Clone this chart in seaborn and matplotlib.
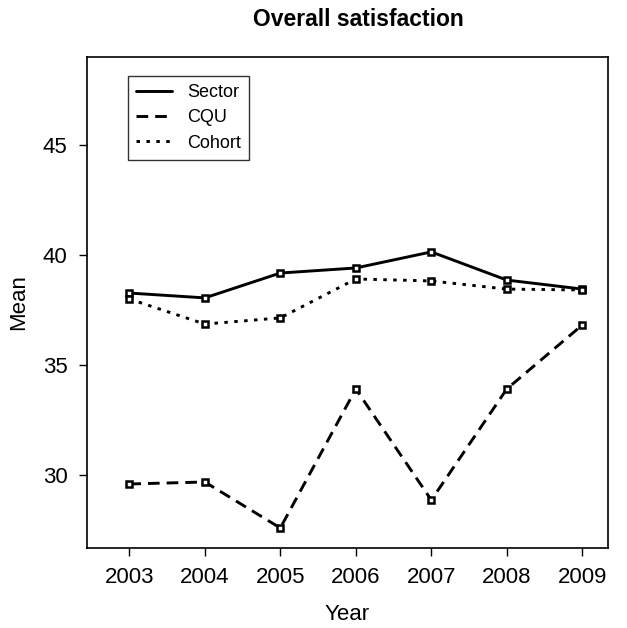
import matplotlib
matplotlib.use("Agg")
import matplotlib.pyplot as plt
from matplotlib.lines import Line2D
import pandas as pd
import seaborn as sns

# data
years = [2003, 2004, 2005, 2006, 2007, 2008, 2009]
sector = [38.27, 38.05, 39.18, 39.41, 40.14, 38.86, 38.45]
cqu = [29.59, 29.68, 27.59, 33.91, 28.86, 33.91, 36.82]
cohort = [38.0, 36.86, 37.14, 38.91, 38.82, 38.45, 38.41]
series = ["Sector", "CQU", "Cohort"]

df = pd.concat([
    pd.DataFrame(dict(Year=years, Mean=vals, series=name))
    for name, vals in zip(series, [sector, cqu, cohort])
])

sns.set_style("ticks")
plt.rcParams["font.family"] = ["Liberation Sans", "DejaVu Sans"]
plt.rcParams["text.color"] = "black"
plt.rcParams["axes.labelcolor"] = "black"

LW = 2.1
dashes = {"Sector": "", "CQU": (4, 2.4), "Cohort": (1.2, 2.2)}

fig = plt.figure(figsize=(6.27, 6.28), dpi=100)
fig.patch.set_facecolor("white")
ax = fig.add_axes([0.1388, 0.1274, 0.8309, 0.7818])

sns.lineplot(
    data=df, x="Year", y="Mean", style="series", style_order=series,
    dashes=dashes, markers={s: "s" for s in series},
    color="black", lw=LW, markersize=5,
    markerfacecolor="white", markeredgecolor="black", markeredgewidth=1.8,
    legend=False, ax=ax,
)

ax.set_xlim(2002.44, 2009.34)
ax.set_ylim(26.68, 49.0)
ax.set_xticks(years)
ax.set_yticks([30, 35, 40, 45])
ax.tick_params(direction="out", length=6, width=1, labelsize=16, color="black",
               labelcolor="black", pad=8)
for sp in ax.spines.values():
    sp.set_visible(True)
    sp.set_color("black")
    sp.set_linewidth(1.2)
ax.set_xlabel("Year", fontsize=16, labelpad=11)
ax.set_ylabel("Mean", fontsize=16, labelpad=10)

# legend
handles = [Line2D([], [], color="black", lw=LW, linestyle=ls)
           for ls in ["-", (0, (4, 2.4)), (0, (1.2, 2.2))]]
leg = ax.legend(handles, series, loc="upper left",
                bbox_to_anchor=(0.079, 0.961), borderaxespad=0,
                fontsize=13, frameon=True, fancybox=False,
                handlelength=2.0, handletextpad=0.8, labelspacing=0.45,
                borderpad=0.45)
leg.get_frame().set_edgecolor("black")
leg.get_frame().set_linewidth(1.0)

fig.text(358 / 627, 1 - 20 / 628, "Overall satisfaction", ha="center",
         va="center", fontsize=16.5, fontweight="bold")

fig.savefig("out.png", dpi=100)
plt.close(fig)
